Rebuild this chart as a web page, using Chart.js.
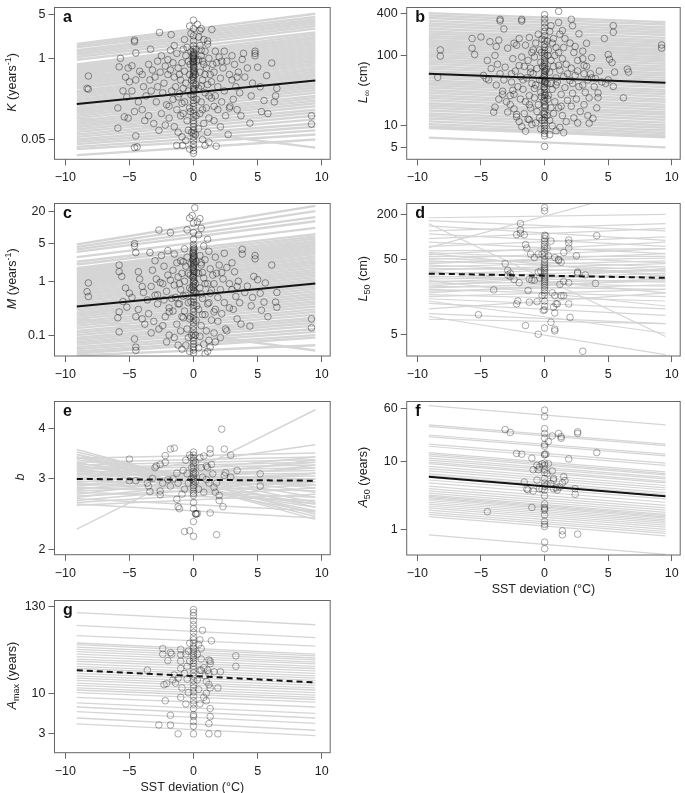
<!DOCTYPE html>
<html lang="en">
<head>
<meta charset="UTF-8">
<title>Trait vs SST deviation</title>
<script src="https://cdn.jsdelivr.net/npm/chart.js"></script>
<style>
  html, body { margin: 0; padding: 0; background: #fff; overflow: hidden; }
  #wrap { position: relative; width: 685px; height: 793px; }
  #wrap canvas { position: absolute; }
</style>
</head>
<body>
<div id="wrap"></div>
<script>
// x range covered by every fitted line (SST deviation, degC)
const lineX = [-9.1, 9.5];
const xTicks = [-10, -5, 0, 5, 10];

// ---- a: K (years^-1) ----
const kTicks = [0.05, 1, 5];
const kFit = [0.185, 0.44];
const kLines = [[1.7,5.2],[1.6,4.6],[1.5,4.2],[1.35,3.9],[1.25,3.6],[1.15,3.3],[1.05,3.0],[0.95,2.6],
  [0.8,2.4],[0.75,2.2],[0.7,2.05],[0.66,1.9],[0.62,1.75],[0.58,1.62],[0.54,1.5],[0.5,1.4],[0.47,1.3],[0.44,1.2],
  [0.41,1.12],[0.38,1.04],[0.35,0.96],[0.33,0.9],[0.3,0.83],[0.28,0.77],[0.26,0.71],[0.24,0.66],[0.22,0.61],
  [0.205,0.56],[0.19,0.52],[0.175,0.48],[0.16,0.44],[0.15,0.4],[0.14,0.37],[0.13,0.34],[0.12,0.31],[0.11,0.28],
  [0.1,0.25],[0.093,0.23],[0.086,0.21],[0.079,0.19],[0.072,0.17],[0.066,0.15],[0.06,0.135],[0.055,0.12],
  [0.05,0.105],[0.046,0.09],[0.042,0.08],[0.038,0.07],[0.035,0.06],[0.028,0.05],[0.11,0.037]];
const kPoints = [[-8.2,0.52],[-8.3,0.33],[-8.2,0.32],[-5.7,1.0],[-5.8,0.73],[-5.1,0.7],[-4.8,0.76],[-4.6,1.96],
  [-4.6,1.85],[-4.5,1.22],[-5.9,0.16],[-5.9,0.076],[-5.1,0.11],[-5.4,0.115],[-4.5,0.057],[-4.6,0.037],[-4.4,0.038],
  [-5.3,0.5],[-5.0,0.42],[-4.8,0.3],[-4.5,0.45],[-4.2,0.62],[-4.0,0.55],[-3.9,0.35],[-3.7,0.25],[-4.3,0.2],
  [-4.0,0.15],[-3.8,0.1],[-3.5,0.12],[-4.6,0.14],[-5.5,0.3],[-5.2,0.24],[-3.35,1.4],[-2.65,2.6],[-3.5,0.8],
  [-3.2,0.65],[-3.0,0.5],[-2.8,0.9],[-3.3,0.3],[-2.9,0.2],[-3.1,0.09],[-2.7,0.07],[-3.4,0.45],[-2.5,1.1],
  [-2.2,0.75],[-2.3,0.4],[-2.0,0.55],[-2.4,0.28],[-2.1,0.18],[-2.5,0.13],[-1.9,0.11],[-2.2,0.085],[-1.74,2.4],
  [-1.8,1.35],[-2.0,0.95],[-1.5,1.6],[-1.3,1.2],[-1.6,0.85],[-1.2,0.7],[-1.5,0.5],[-1.0,0.45],[-1.4,0.35],
  [-1.1,0.27],[-1.6,0.22],[-0.9,0.19],[-1.3,0.15],[-1.0,0.12],[-1.5,0.08],[-1.2,0.065],[-1.3,0.04],[-0.85,0.04],
  [-0.9,0.055],[-0.7,2.0],[-0.5,1.5],[-0.6,1.1],[-0.4,0.9],[-0.7,0.62],[-0.3,0.55],[-0.6,0.4],[-0.4,0.3],
  [-0.7,0.2],[-0.3,0.16],[-0.5,0.1],[-0.4,0.07],[-0.6,0.048],[-0.3,0.035],[-0.3,3.3],[-0.2,2.5],
  [0,4.1],[0,3.0],[0,2.3],[0,1.9],[0,1.6],[0,1.4],[0,1.25],[0,1.15],[0,1.08],[0,1.02],[0,0.96],[0,0.9],[0,0.85],
  [0,0.8],[0,0.75],[0,0.7],[0,0.65],[0,0.6],[0,0.56],[0,0.52],[0,0.48],[0,0.44],[0,0.4],[0,0.36],[0,0.33],[0,0.3],
  [0,0.27],[0,0.24],[0,0.21],[0,0.19],[0,0.17],[0,0.15],[0,0.13],[0,0.115],[0,0.1],[0,0.09],[0,0.08],[0,0.07],
  [0,0.062],[0,0.055],[0,0.048],[0,0.042],[0,0.037],[0,0.033],[0,0.03],[0.05,1.2],[0.05,1.0],[-0.05,0.88],
  [0.05,0.72],[-0.05,0.5],[0.05,0.32],[-0.05,1.1],[0.05,0.62],[0.3,3.5],[0.5,2.8],[0.6,3.0],[0.4,2.2],[0.8,2.0],
  [1.1,1.9],[1.1,1.7],[1.43,2.9],[0.5,1.6],[0.9,1.3],[0.6,1.1],[1.2,1.0],[0.4,0.95],[0.8,0.8],[1.0,0.7],[0.5,0.6],
  [1.3,0.55],[0.7,0.45],[1.1,0.38],[0.4,0.33],[0.9,0.28],[1.4,0.23],[0.6,0.2],[1.0,0.16],[0.5,0.13],[1.2,0.11],
  [0.8,0.09],[0.4,0.075],[1.1,0.065],[0.7,0.05],[1.2,0.045],[0.9,0.04],[1.77,0.039],[1.7,1.3],[2.0,1.05],
  [1.8,0.85],[2.3,0.7],[1.6,0.6],[2.1,0.48],[1.9,0.35],[2.4,0.3],[1.7,0.25],[2.2,0.2],[1.9,0.15],[2.5,0.12],
  [1.6,0.1],[2.1,0.08],[2.7,0.06],[2.8,0.16],[2.85,0.17],[2.4,1.3],[2.6,0.9],[3.0,1.1],[3.2,0.8],[3.5,0.6],
  [3.0,0.45],[3.3,0.35],[3.6,0.28],[3.1,0.22],[3.4,0.15],[3.8,0.96],[3.9,1.2],[4.0,0.5],[4.2,0.7],[4.4,0.091],
  [3.7,0.12],[4.8,1.3],[4.8,1.2],[4.8,1.1],[6.1,0.84],[5.0,0.72],[5.7,0.53],[6.5,0.33],[6.4,0.25],[6.3,0.2],
  [5.5,0.21],[5.3,0.14],[5.8,0.13],[9.2,0.12],[9.2,0.088],[4.6,0.4],[5.2,0.35],[4.5,0.25],
  [-0.2,1.3],[-0.25,0.8],[-0.15,0.45],[-0.2,0.26],[-0.25,0.14],[0.2,1.4],[0.25,0.9],[0.15,0.55],[0.2,0.38],
  [0.25,0.22],[0.2,0.12],[0.15,0.06],[-0.15,0.065],[-0.8,1.4],[-0.9,0.85],[-1.1,0.55],[-0.8,0.33],[-1.2,0.24],
  [-0.8,0.13],[0.6,1.35],[0.7,0.9],[0.9,0.55],[0.6,0.36],[1.2,0.25],[0.7,0.15],[1.5,0.8],[1.4,0.42],[1.6,0.17],
  [-1.8,0.65],[-1.7,0.3],[-1.9,0.17],[-2.8,0.35],[-2.6,0.6],[2.8,0.55],[2.2,0.9],[3.4,0.5]];

// ---- b: L-infinity (cm) ----
const linfTicks = [5, 10, 100, 400];
const linfFit = [55, 41];
const linfLines = [[400,298],[370,275],[340,250],[310,230],[285,212],[262,195],[240,178],[220,163],[205,152],
  [190,141],[178,132],[165,122],[155,115],[145,107],[136,101],[127,94],[118,88],[110,82],[102,76],[95,70],[88,65],
  [82,61],[76,56],[70,52],[65,48],[60,44.5],[56,41.5],[52,38.5],[48,35.5],[44,32.5],[41,30.4],[38,28.2],[35,26],
  [32,23.7],[29.5,21.9],[27,20],[25,18.5],[23,17],[21,15.6],[19.5,14.5],[18,13.3],[16.5,12.2],[15,11.1],
  [13.8,10.2],[12.7,9.4],[11.6,8.6],[10.6,7.9],[9.8,7.3],[9.3,6.9],[6.8,4.95]];
const linfPoints = [[-8.2,120],[-8.2,98],[-8.4,49],[-5.7,174],[-5.7,127],[-5.5,103],[-5.0,183],[-4.8,52],[-4.6,47],
  [-4.4,45],[-4.0,15.7],[-3.5,326],[-3.5,309],[-3.2,238],[-3.6,165],[-4.3,157],[-3.8,134],[-2.9,127],[-2.4,149],
  [-2.0,174],[-1.8,326],[-1.8,309],[-3.7,75],[-3.1,68],[-2.6,55],[-3.3,31],[-2.7,27],[-3.6,24],[-2.4,17.4],
  [-2.9,15.7],[-2.2,13.4],[-3.9,18.4],[-2.0,11.5],[-1.8,9.8],[-1.5,8.4],[-1.2,12.2],[1.1,424],[0.5,265],[1.1,294],
  [2.1,326],[2.2,265],[1.4,226],[2.7,203],[0.7,174],[1.6,174],[2.4,134],[3.3,149],[3.0,115],[3.7,93],[3.1,72],
  [3.6,55],[4.2,29.4],[4.2,25.2],[4.8,40],[5.0,103],[5.1,88],[5.3,79],[5.5,58],[5.0,45],[5.4,36.3],[6.5,64],
  [6.6,58],[6.2,25],[4.0,47],[3.8,12.8],[3.5,10.9],[9.2,141],[9.2,127],[5.4,265],[5.4,214],[4.7,174],
  [0,380],[0,330],[0,290],[0,250],[0,220],[0,190],[0,165],[0,145],[0,130],[0,118],[0,108],[0,100],[0,93],[0,86],
  [0,80],[0,75],[0,70],[0,65],[0,60],[0,56],[0,52],[0,48],[0,45],[0,42],[0,39],[0,36],[0,33],[0,30],[0,27],[0,25],
  [0,22],[0,20],[0,18],[0,16],[0,14.5],[0,13],[0,12],[0,11],[0,10],[0,9.2],[0,8.5],[0,7.8],[0,7.2],[0,5.1],
  [0.05,60],[-0.05,50],[0.05,42],[-0.05,35],[0.05,28],[-0.05,23],[0.05,19],[-0.05,15],
  [-0.5,200],[-0.7,150],[-0.4,120],[-0.8,95],[-0.3,80],[-0.6,65],[-0.9,55],[-0.4,45],[-0.7,38],[-0.3,30],
  [-0.8,25],[-0.5,20],[-0.6,16],[-0.4,13],[-0.7,11],[-0.3,9],[-1.2,180],[-1.5,140],[-1.0,110],[-1.3,85],
  [-1.6,70],[-1.1,58],[-1.4,48],[-1.0,40],[-1.7,33],[-1.2,27],[-1.5,22],[-1.1,18],[-1.6,15],[-1.3,12.5],
  [-1.0,10.5],[-2.2,140],[-2.5,90],[-2.0,72],[-2.3,60],[-1.9,50],[-2.6,42],[-2.1,36],[-2.4,28],[-1.9,24],
  [-2.7,20],[-2.2,14.5],[0.4,220],[0.6,150],[0.3,120],[0.8,100],[0.5,85],[0.7,70],[0.4,58],[0.9,48],[0.5,40],
  [0.6,33],[0.3,27],[0.8,22],[0.5,18],[0.7,15],[0.4,12],[0.6,10],[0.9,8.5],[0.4,7.5],[1.2,200],[1.5,130],
  [1.1,110],[1.4,90],[1.7,75],[1.2,62],[1.5,50],[1.0,42],[1.6,35],[1.3,28],[1.8,23],[1.1,18],[1.4,14],[1.7,11.5],
  [1.2,9.5],[1.5,8],[2.0,150],[2.3,110],[2.6,85],[2.1,66],[2.4,52],[2.0,44],[2.7,36],[2.2,29],[2.5,24],[2.1,19],
  [2.8,16],[2.3,13],[2.6,11],[3.0,90],[3.3,70],[3.1,55],[3.4,45],[3.0,38],[3.2,30],[3.5,25],[3.1,20],[3.4,14],
  [3.7,48],[3.9,36],[4.3,60],[4.5,42],[4.1,18],[-3.5,55],[-3.2,45],[-3.8,38],[-3.3,28],[-3.0,22],[-4.2,65],
  [-4.5,85],[-3.9,100],[-0.2,170],[-0.25,110],[-0.15,70],[-0.2,44],[-0.25,26],[0.2,160],[0.25,100],[0.15,64],
  [0.2,40],[0.25,24],[0.2,14],[-0.2,12],[-0.9,120],[-1.1,66],[-0.8,34],[-1.2,20],[0.9,130],[1.1,72],[0.9,38],
  [1.3,19],[-1.8,95],[-1.7,45],[1.8,55],[2.2,40],[-2.5,32],[2.6,60]];

// ---- c: M (years^-1) ----
const mTicks = [0.1, 1, 5, 20];
const mFit = [0.34, 0.91];
const mLines = [[4.8,25],[4.3,20],[3.9,15.5],[3.5,13],[2.8,9.8],[2.3,7.5],[2.05,6.8],[1.75,6.2],[1.65,5.6],
  [1.55,5.2],[1.45,4.8],[1.35,4.5],[1.25,4.1],[1.15,3.8],[1.07,3.5],[1.0,3.2],[0.92,2.9],[0.85,2.65],[0.78,2.4],
  [0.72,2.2],[0.66,2.0],[0.6,1.8],[0.55,1.62],[0.5,1.47],[0.46,1.33],[0.42,1.2],[0.38,1.08],[0.35,0.98],
  [0.32,0.88],[0.29,0.8],[0.26,0.72],[0.24,0.65],[0.22,0.58],[0.2,0.52],[0.18,0.47],[0.165,0.42],[0.15,0.38],
  [0.135,0.34],[0.12,0.3],[0.11,0.27],[0.1,0.24],[0.09,0.21],[0.082,0.19],[0.074,0.17],[0.067,0.15],[0.06,0.13],
  [0.055,0.115],[0.05,0.1],[0.046,0.09],[0.042,0.065],[0.2,0.052]];
const mPoints = [[-8.2,0.93],[-8.3,0.64],[-8.2,0.52],[-5.8,2.0],[-5.8,1.5],[-5.6,1.23],[-5.3,0.75],[-5.0,0.6],
  [-4.8,0.5],[-5.5,0.42],[-5.2,0.33],[-5.8,0.27],[-5.9,0.21],[-5.8,0.115],[-4.6,5.0],[-4.6,4.5],[-4.5,3.4],
  [-4.6,0.085],[-4.5,0.06],[-4.5,0.052],[-4.3,1.5],[-4.2,1.1],[-4.0,0.8],[-4.3,0.3],[-4.0,0.2],[-3.8,0.16],
  [-3.5,0.25],[-3.6,0.45],[-3.9,0.62],[-4.5,0.22],[-3.4,3.4],[-3.0,2.4],[-3.2,1.6],[-2.9,1.1],[-3.3,0.8],
  [-3.0,0.55],[-2.8,0.38],[-3.1,0.18],[-2.7,0.13],[-3.3,0.11],[-2.7,8.9],[-1.8,8.0],[-2.5,3.0],[-2.0,3.7],
  [-2.3,1.9],[-2.0,1.3],[-2.4,0.9],[-2.1,0.65],[-2.3,0.45],[-1.9,0.32],[-2.2,0.22],[-2.4,0.15],[-1.9,0.1],
  [-2.1,0.075],[-1.5,3.2],[-1.3,2.2],[-1.6,1.6],[-1.2,1.2],[-1.5,0.85],[-1.0,0.7],[-1.4,0.5],[-1.1,0.38],
  [-1.6,0.28],[-0.9,0.22],[-1.3,0.16],[-1.0,0.12],[-1.5,0.09],[-1.2,0.065],[-0.9,0.055],[-1.0,2.4],[-0.7,4.0],
  [-0.5,2.8],[-0.6,1.9],[-0.4,1.4],[-0.7,1.0],[-0.3,0.75],[-0.6,0.55],[-0.4,0.4],[-0.7,0.28],[-0.3,0.2],
  [-0.5,0.13],[-0.4,0.09],[-0.6,0.065],[-0.3,0.05],[-0.3,14.9],[-0.1,16.6],[-0.5,9.0],
  [0,12],[0,8],[0,6],[0,4.8],[0,4.3],[0,3.9],[0,3.6],[0,3.3],[0,3.0],[0,2.8],[0,2.6],[0,2.4],[0,2.2],[0,2.0],
  [0,1.85],[0,1.7],[0,1.55],[0,1.4],[0,1.28],[0,1.16],[0,1.05],[0,0.95],[0,0.85],[0,0.76],[0,0.68],[0,0.6],
  [0,0.53],[0,0.47],[0,0.41],[0,0.36],[0,0.31],[0,0.27],[0,0.23],[0,0.2],[0,0.17],[0,0.145],[0,0.125],[0,0.105],
  [0,0.09],[0,0.078],[0,0.068],[0,0.06],[0,0.053],[0,0.047],[0.05,4.0],[-0.05,3.4],[0.05,2.9],[-0.05,2.5],
  [0.05,2.1],[-0.05,1.8],[0.05,1.5],[-0.05,1.2],[0.05,1.0],[-0.05,0.8],[0.05,0.65],
  [0.1,23],[0.3,12.6],[0.5,14.5],[0.6,9.6],[0.4,7.3],[1.1,6.0],[0.8,4.5],[1.2,3.6],[0.5,3.0],[0.9,2.5],[0.6,2.0],
  [1.3,1.7],[0.4,1.4],[0.8,1.15],[1.1,0.9],[0.5,0.75],[1.3,0.6],[0.7,0.48],[1.1,0.38],[0.4,0.3],[0.9,0.24],
  [1.4,0.19],[0.6,0.15],[1.0,0.12],[0.5,0.095],[1.2,0.08],[0.8,0.068],[0.4,0.058],[1.1,0.05],[0.9,0.045],
  [1.3,0.06],[1.7,0.075],[1.7,2.8],[2.0,2.0],[1.8,1.4],[2.3,1.1],[1.6,0.9],[2.1,0.7],[1.9,0.5],[2.4,0.4],
  [1.7,0.3],[2.2,0.25],[1.9,0.18],[2.5,0.13],[1.6,0.11],[2.1,0.09],[2.6,0.12],[2.4,3.3],[2.6,1.8],[2.8,0.32],
  [3.0,2.2],[3.2,1.5],[3.5,1.0],[3.0,0.7],[3.3,0.52],[3.6,0.4],[3.1,0.3],[3.4,0.2],[3.8,3.9],[3.8,3.2],[4.0,0.62],
  [4.2,0.81],[4.4,0.147],[3.7,0.16],[4.7,1.23],[4.8,3.0],[4.8,2.6],[6.1,2.0],[5.0,1.07],[5.6,0.93],[6.5,0.62],
  [6.4,0.41],[6.5,0.33],[5.5,0.41],[5.3,0.29],[5.8,0.22],[9.2,0.2],[9.2,0.137],[4.6,0.5],[5.2,0.6],[4.5,0.35],
  [-0.2,2.1],[-0.25,1.3],[-0.15,0.7],[-0.2,0.42],[-0.25,0.22],[0.2,2.3],[0.25,1.45],[0.15,0.9],[0.2,0.6],
  [0.25,0.35],[0.2,0.19],[0.15,0.1],[-0.15,0.1],[-0.8,2.3],[-0.9,1.4],[-1.1,0.9],[-0.8,0.53],[-1.2,0.38],
  [-0.8,0.21],[0.6,2.2],[0.7,1.45],[0.9,0.9],[0.6,0.58],[1.2,0.4],[0.7,0.24],[1.5,1.3],[1.4,0.68],[1.6,0.27],
  [-1.8,1.05],[-1.7,0.48],[-1.9,0.27],[-2.8,0.56],[-2.6,0.95],[2.8,0.9],[2.2,1.45],[3.4,0.8]];

// ---- d: L50 (cm) ----
const l50Ticks = [5, 50, 200];
const l50Fit = [32.4, 28.5];
const l50Lines = [[180,200],[165,120],[150,4.7],[140,90],[120,150],[110,75],[95,130],[85,60],[75,100],[72,515],
  [65,70],[62,45],[58,85],[55,55],[52,40],[50,70],[48,36],[46,52],[44,60],[42,32],[40,48],[38,35],[36,44],
  [34,28],[32,40],[30,25],[29,36],[27.5,30],[26,22],[25,33],[23.5,27],[22,20],[21,26],[20,16],[19,23],[18,28],
  [17,14],[16,20],[15,11],[13,9],[11,18],[9.5,7],[8.7,2.7],[8,7],[26,12],[35,18],[60,30],[22,38],[14,5.2]];
const l50Points = [[0,245],[0,222],[-1.9,151],[-1.9,124],[-1.9,112],[-2.2,107],[-1.6,107],[-1.5,79],[-1.4,71],
  [-1.1,59],[-0.8,53],[-0.5,59],[-0.2,59],[0.3,56],[0.8,53],[1.1,48.6],[1.3,46],[1.5,62],[1.1,50],[1.9,91],
  [1.9,83],[1.9,71],[2.5,56],[4.1,104],[0.5,88],[0.2,71],[0.1,103],[-3.1,44],[-2.9,36],[-2.7,29.6],[-2.4,27],
  [-2.0,24.5],[-2.9,31],[-2.7,32.7],[-1.2,27.4],[-0.8,26.5],[-0.3,35],[-0.5,34],[-0.4,28.4],[-4.0,19.7],
  [-1.3,19.3],[-1.0,26.6],[-2.1,14],[-2.2,12.8],[-1.2,13.5],[-0.6,13.7],[-0.2,16.5],[-0.1,10.5],[0.6,18],
  [0.8,16.5],[0.9,12.8],[1.0,12.8],[1.3,16.5],[1.5,16.5],[1.9,12.8],[2.0,8.5],[0.8,9.7],[0.7,11.6],[1.5,25.5],
  [1.2,23.3],[2.6,32.7],[2.6,34],[3.2,31.2],[4.0,24],[1.9,24.5],[-5.2,9.2],[-1.5,6.6],[-0.5,5.05],[0.5,7.3],
  [0.8,5.9],[0.8,5.6],[3.0,3.0],
  [0,105],[0,95],[0,88],[0,80],[0,75],[0,70],[0,62],[0,56],[0,50],[0,46],[0,43],[0,40],[0,38],[0,36],[0,34],
  [0,32],[0,30],[0,28.5],[0,27],[0,25.5],[0,24],[0,22.5],[0,21],[0,19.5],[0,18],[0,16.5],[0,14],[0,12],[0,10.7],
  [0,6.1]];

// ---- e: b (length-weight exponent) ----
const bTicks = [2, 3, 4];
const bFit = [3.0, 2.97];
const bLines = [[3.55,2.45],[3.5,2.55],[3.45,2.62],[3.4,2.7],[3.38,3.48],[3.35,2.78],[3.3,3.4],[3.28,2.85],
  [3.25,3.35],[3.22,2.9],[3.2,3.3],[3.17,3.25],[3.15,2.95],[3.12,3.2],[3.1,3.0],[3.08,3.15],[3.05,3.1],
  [3.03,2.6],[3.0,3.05],[2.98,3.4],[2.96,2.9],[2.94,3.3],[2.92,2.8],[2.9,3.2],[2.88,3.1],[2.86,2.7],[2.84,3.0],
  [2.82,3.35],[2.8,2.95],[2.78,2.65],[2.75,3.25],[2.72,2.9],[2.7,3.1],[2.68,2.5],[2.65,3.0],[2.62,2.85],
  [2.6,2.4],[2.58,2.75],[3.3,2.5],[3.4,2.42],[3.45,2.38],[3.25,2.6],[3.2,2.48],[3.15,2.55],[2.25,4.46],[3.0,3.65]];
const bPoints = [[-5.0,3.36],[-5.0,2.97],[-4.5,2.97],[-3.6,2.93],[-3.5,2.88],[-3.4,2.79],[-3.2,3.01],[-3.0,3.2],
  [-2.9,3.23],[-2.6,3.26],[-2.6,2.8],[-2.6,2.74],[-2.4,2.93],[-2.2,3.3],[-2.2,3.43],[-1.8,3.56],[-1.5,3.58],
  [-1.3,3.1],[-1.6,3.0],[-1.2,2.93],[-1.3,2.67],[-1.2,2.56],[-1.1,2.53],[-0.9,2.75],[-0.7,2.83],[-0.6,3.34],
  [-0.3,3.44],[-0.2,3.39],[-0.7,2.22],[-0.3,2.23],[0,2.16],[0.2,2.46],[0.3,2.46],[0,2.35],[0,2.53],[0,2.62],
  [0,2.73],[0.5,3.39],[0.8,3.42],[1.0,3.23],[1.1,3.2],[1.3,3.56],[1.3,3.47],[1.3,2.47],[1.6,2.86],[1.7,2.78],
  [1.8,2.18],[2.0,2.73],[2.0,2.65],[2.2,3.99],[2.4,3.56],[2.4,3.06],[2.3,2.56],[2.5,3.11],[2.9,3.03],[2.9,3.44],
  [3.4,3.15],[5.2,3.09],[5.2,2.88],[1.4,3.26],[1.2,2.93],[0.7,3.03],[0.4,2.83],[1.0,2.99],[-0.4,2.93],
  [-0.8,3.15],[-1.8,2.88],[-2.0,2.99],[-0.5,3.09],[0.6,3.2],[0.8,2.78],[1.5,3.09],[1.8,2.93],
  [0,3.5],[0,3.44],[0,3.38],[0,3.33],[0,3.28],[0,3.23],[0,3.18],[0,3.13],[0,3.09],[0,3.05],[0,3.01],[0,2.97],
  [0,2.93],[0,2.89],[0,2.85],[0,2.8],[0,2.76],[0.15,3.3],[0.15,3.1],[0.15,2.95],[-0.15,3.2],[-0.15,3.0],
  [0.15,2.46],[0.2,2.45]];

// ---- f: A50 (years) ----
const a50Ticks = [1, 10, 60];
const a50Fit = [5.9, 3.05];
const a50Lines = [[65.6,34.3],[34.3,17.9],[32.5,17.0],[24.3,12.7],[23.0,12.0],[17.9,9.4],[16.6,8.7],[13.4,7.0],
  [12.7,6.6],[12.0,6.3],[11.1,5.8],[10.4,5.5],[9.7,5.06],[9.2,4.8],[8.4,4.4],[7.8,4.07],[7.2,3.78],[6.6,3.47],
  [6.2,3.25],[5.8,3.05],[5.3,2.8],[4.8,2.5],[4.3,2.25],[3.95,2.06],[3.66,1.91],[3.4,1.77],[3.18,1.66],
  [3.05,1.59],[2.92,1.52],[2.8,1.46],[2.65,1.38],[2.5,1.31],[2.35,1.23],[2.2,1.15],[2.06,1.08],[1.91,1.0],
  [1.77,0.93],[1.66,0.87],[1.54,0.8],[0.83,0.43]];
const a50Points = [[0,56.4],[0,45.4],[-3.1,29.2],[-2.7,26.5],[0,30.1],[0,25.6],[0,21.8],[0,17.6],[0,16.6],
  [0,12.7],[0,12.4],[0,9.4],[0,8.7],[0,7.5],[0,6.8],[0,5.6],[0,4.8],[0,4.3],[0,3.78],[0,3.1],[0,2.37],[0,2.1],
  [0,2.0],[0,1.91],[0,1.63],[0,1.31],[0,1.18],[0,1.1],[0,0.65],[0,0.52],[0.6,23.5],[1.1,25.6],[1.3,23.0],
  [1.3,21.8],[2.6,27],[2.6,25.6],[0.3,19.5],[0.1,12.7],[-2.2,13.0],[-1.8,12.7],[-1.0,11.1],[1.9,10.8],
  [4.1,13.4],[-0.6,8.7],[-0.4,8.2],[-0.2,9.2],[-0.9,7.5],[-0.5,7.5],[0.3,9.2],[-1.6,4.95],[-0.6,5.3],[0.7,5.6],
  [0.7,5.3],[1.5,5.95],[1.6,5.2],[0.5,4.7],[0.2,4.5],[0.7,3.95],[0.9,4.07],[1.0,3.78],[1.2,4.2],[2.4,3.95],
  [2.4,3.28],[-1.4,3.9],[-1.3,3.8],[-0.4,3.95],[-0.2,3.9],[-0.9,3.66],[-1.0,2.1],[-4.5,1.82],[1.4,0.95],
  [1.4,0.83],[2.6,0.85],[0.2,6.6],[0.6,7.2],[1.4,4.8]];

// ---- g: Amax (years) ----
const amaxTicks = [3, 10, 130];
const amaxFit = [19.8, 13.8];
const amaxLines = [[109,76],[74.5,52],[55,40.3],[44.3,31.8],[42.2,30.3],[39.2,28.4],[36.7,26.8],[34.3,25.1],
  [31.8,23.9],[29.5,22.2],[27.5,20.8],[25.8,19.4],[23.9,18.0],[22.2,16.7],[20.8,15.6],[19.4,14.6],[18.0,13.5],
  [16.7,12.6],[15.6,11.7],[14.6,11.0],[13.5,10.2],[12.6,9.45],[11.7,8.85],[11.0,8.3],[10.2,7.7],[8.85,6.65],
  [7.5,5.5],[6.65,4.8],[5.8,4.1],[4.8,3.34],[4.03,2.84]];
const amaxPoints = [[0,119],[0,109],[0,99],[0,86],[0,76],[0,68],[0,60.6],[0,53],[0,48.6],[0,44],[0,40],[0,37.6],
  [0,34.9],[0,32.4],[0,30.3],[0,28.4],[0,26.3],[0,24.4],[0,22.2],[0,20.2],[0,18.3],[0,16.4],[0,14.6],[0,12.9],
  [0,11.7],[0,10.4],[0,9.1],[0,8.0],[0,7.3],[0,6.35],[0,5.3],[0,5.0],[0,4.35],[0,3.77],[0,3.0],[0.7,64.5],
  [1.4,47.3],[0.5,48.6],[0.4,42.2],[0.6,37.6],[0.3,31.8],[0.6,27.5],[1.2,26.8],[1.3,25.8],[1.3,24],[1.1,19.8],
  [1.2,18],[1.6,18.9],[1.0,14.2],[1.2,12.9],[1.0,10],[1.3,11.7],[0.8,8.85],[1.0,8],[1.3,6.35],[1.3,5],[1.2,4.06],
  [1.2,3.0],[1.9,3.0],[1.9,11.7],[2.1,18.9],[3.3,30.3],[3.3,22.2],[0.5,19.8],[0.8,21.3],[0.9,16.7],[0.3,14.9],
  [0.4,11.2],[0.5,7.3],[-0.3,44],[-0.4,34.9],[-0.6,31.8],[-0.3,25.8],[-0.5,22.2],[-0.7,18],[-0.5,15.2],
  [-0.9,11.7],[-0.4,10.2],[-1.0,8.85],[-0.6,7.3],[-1.0,36.7],[-1.0,31.2],[-1.0,25.8],[-1.0,20.8],[-1.2,15.6],
  [-1.5,17.2],[-1.4,13.5],[-1.6,14.9],[-2.4,37.6],[-2.4,31.8],[-1.8,33.3],[-1.7,31.8],[-2.0,26.3],[-2.3,12.9],
  [-2.1,13.3],[-2.2,8],[-3.6,19.8],[-1.8,5.2],[-1.8,3.9],[-2.7,3.9],[-1.2,3.0],[0.6,19.8]];

const FONT = '"Liberation Sans", Arial, Helvetica, sans-serif';

const panels = [
  { letter: 'a', box: [54.5, 1, 332, 159.3], yMin: 0.024, yMax: 6.54, ticks: kTicks, fit: kFit,
    lines: kLines, pts: kPoints, dashed: false, lineW: 2.4, ptAlpha: 0.55, titleGap: 39,
    title: [{t: 'K', i: true}, {t: ' (years'}, {t: '-1', sup: true}, {t: ')'}] },
  { letter: 'b', box: [406.7, 1, 682.5, 159.3], yMin: 3.35, yMax: 480, ticks: linfTicks, fit: linfFit,
    lines: linfLines, pts: linfPoints, dashed: false, lineW: 2.4, ptAlpha: 0.55, titleGap: 40,
    title: [{t: 'L', i: true}, {t: '\u221e', sub: true}, {t: ' (cm)'}] },
  { letter: 'c', box: [54.5, 197.5, 332, 356], yMin: 0.041, yMax: 27.7, ticks: mTicks, fit: mFit,
    lines: mLines, pts: mPoints, dashed: false, lineW: 2.4, ptAlpha: 0.55, titleGap: 39,
    title: [{t: 'M', i: true}, {t: ' (years'}, {t: '-1', sup: true}, {t: ')'}] },
  { letter: 'd', box: [406.7, 197.5, 682.5, 356], yMin: 2.59, yMax: 278.6, ticks: l50Ticks, fit: l50Fit,
    lines: l50Lines, pts: l50Points, dashed: true, lineW: 1.2, ptAlpha: 0.45, titleGap: 40,
    title: [{t: 'L', i: true}, {t: '50', sub: true}, {t: ' (cm)'}] },
  { letter: 'e', box: [54.5, 395, 332, 554.7], yMin: 1.944, yMax: 4.675, ticks: bTicks, fit: bFit,
    lines: bLines, pts: bPoints, dashed: true, lineW: 1.5, ptAlpha: 0.45, titleGap: 31,
    title: [{t: 'b', i: true}] },
  { letter: 'f', box: [406.7, 395, 682.5, 555], yMin: 0.42, yMax: 75.4, ticks: a50Ticks, fit: a50Fit,
    lines: a50Lines, pts: a50Points, dashed: false, lineW: 1.2, ptAlpha: 0.45, titleGap: 40, xTitle: true,
    title: [{t: 'A', i: true}, {t: '50', sub: true}, {t: ' (years)'}] },
  { letter: 'g', box: [54.5, 594, 332, 752.7], yMin: 1.717, yMax: 156, ticks: amaxTicks, fit: amaxFit,
    lines: amaxLines, pts: amaxPoints, dashed: true, lineW: 1.3, ptAlpha: 0.45, titleGap: 39, xTitle: true,
    title: [{t: 'A', i: true}, {t: 'max', sub: true}, {t: ' (years)'}] }
];

function partFont(p) {
  return (p.i ? 'italic ' : '') + ((p.sup || p.sub) ? 9 : 12.5) + 'px ' + FONT;
}

const decor = {
  id: 'decor',
  afterDraw(chart) {
    const p = chart.options.plugins.decor;
    const {ctx, chartArea: a} = chart;
    ctx.save();
    ctx.strokeStyle = '#666';
    ctx.lineWidth = 1;
    ctx.strokeRect(a.left, a.top, a.right - a.left, a.bottom - a.top);

    ctx.fillStyle = '#111';
    ctx.font = 'bold 16px ' + FONT;
    ctx.textAlign = 'left';
    ctx.textBaseline = 'alphabetic';
    ctx.fillText(p.letter, a.left + 8.5, a.top + 14.5);

    // rotated y title, mixed italic / sub / sup
    ctx.fillStyle = '#222';
    ctx.translate(a.left - p.titleGap, (a.top + a.bottom) / 2 - 1);
    ctx.rotate(-Math.PI / 2);
    let w = 0;
    p.title.forEach(part => { ctx.font = partFont(part); w += ctx.measureText(part.t).width; });
    let x = -w / 2;
    p.title.forEach(part => {
      ctx.font = partFont(part);
      ctx.fillText(part.t, x, part.sup ? -5 : part.sub ? 3 : 0);
      x += ctx.measureText(part.t).width;
    });
    ctx.restore();

    if (p.xTitle) {
      ctx.save();
      ctx.fillStyle = '#222';
      ctx.font = '12.5px ' + FONT;
      ctx.textAlign = 'center';
      ctx.textBaseline = 'middle';
      ctx.fillText('SST deviation (\u00b0C)', (a.left + a.right) / 2, a.bottom + 35);
      ctx.restore();
    }
  }
};

const wrap = document.getElementById('wrap');

panels.forEach(p => {
  const [l, t, r, b] = p.box;
  const right = l > 200;
  const cLeft = right ? 351 : 0;
  const cW = right ? 334 : 335;
  const yw = l - cLeft;
  const padR = cLeft + cW - r;
  const cTop = Math.floor(t) - 4;
  const padT = t - cTop;
  const cH = Math.ceil(b + (p.xTitle ? 44 : 30) - cTop);
  const xh = cTop + cH - b;

  const canvas = document.createElement('canvas');
  canvas.width = cW;
  canvas.height = cH;
  canvas.style.left = cLeft + 'px';
  canvas.style.top = cTop + 'px';
  canvas.style.width = cW + 'px';
  canvas.style.height = cH + 'px';
  wrap.appendChild(canvas);

  const datasets = [];
  datasets.push({
    type: 'line', order: 0,
    data: lineX.map((x, i) => ({x: x, y: p.fit[i]})),
    borderColor: '#141414', borderWidth: 2, borderDash: p.dashed ? [6, 4] : [],
    pointRadius: 0
  });
  datasets.push({
    type: 'scatter', order: 1,
    data: p.pts.map(([x, y]) => ({x: x, y: y})),
    pointRadius: 3.3, pointBorderWidth: 0.8,
    pointBorderColor: 'rgba(20,20,20,' + p.ptAlpha + ')', pointBackgroundColor: 'rgba(0,0,0,0)'
  });
  p.lines.forEach(([s, e]) => {
    datasets.push({
      type: 'line', order: 2,
      data: [{x: lineX[0], y: s}, {x: lineX[1], y: e}],
      borderColor: 'rgb(213,213,213)', borderWidth: p.lineW, pointRadius: 0
    });
  });

  new Chart(canvas, {
    type: 'scatter',
    data: {datasets: datasets},
    options: {
      responsive: false,
      animation: false,
      events: [],
      devicePixelRatio: 1,
      layout: {padding: {top: padT, right: padR, left: 0, bottom: 0}},
      plugins: {
        legend: {display: false},
        tooltip: {enabled: false},
        decor: {letter: p.letter, title: p.title, titleGap: p.titleGap, xTitle: !!p.xTitle}
      },
      scales: {
        x: {
          type: 'linear', min: -10.84, max: 10.66,
          afterBuildTicks: s => { s.ticks = xTicks.map(v => ({value: v})); },
          afterFit: s => { s.height = xh; },
          grid: {drawOnChartArea: false, drawTicks: true, tickLength: 6, color: '#666'},
          border: {display: false},
          ticks: {
            autoSkip: false, maxRotation: 0, padding: 5, color: '#222',
            font: {family: FONT, size: 12.5},
            callback: v => (v < 0 ? '\u2212' + Math.abs(v) : String(v))
          }
        },
        y: {
          type: 'logarithmic', min: p.yMin, max: p.yMax,
          afterBuildTicks: s => { s.ticks = p.ticks.map(v => ({value: v})); },
          afterFit: s => { s.width = yw; },
          grid: {drawOnChartArea: false, drawTicks: true, tickLength: 6, color: '#666'},
          border: {display: false},
          ticks: {
            autoSkip: false, padding: 3, color: '#222',
            font: {family: FONT, size: 12.5},
            callback: v => String(v)
          }
        }
      }
    },
    plugins: [decor]
  });
});
</script>
</body>
</html>
